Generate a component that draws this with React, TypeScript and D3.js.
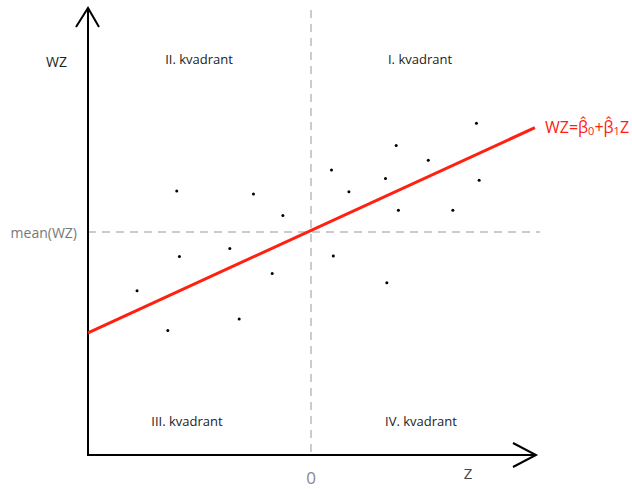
import React from "react";
import * as d3 from "d3";

const zValues = [19.9, 37.1, 43.7, 31.8, 20.5, 41.3, 11.0, 33.9, 17.9, 87.1, 69.1, 76.3, 54.6, 66.7, 58.5, 87.7, 69.6, 81.8, 55.0, 67.0];
const wzValues = [59.2, 58.5, 53.7, 46.3, 44.5, 40.7, 36.8, 30.5, 27.9, 74.4, 69.4, 66.1, 63.9, 62.0, 59.0, 61.6, 54.9, 54.9, 44.6, 38.6];
const meanZ = 50;
const meanWZ = 50;
const beta0 = 27.4;
const beta1 = 0.459;
const lineZ = [0, 100.2];
const quadrantLabels = ["I. kvadrant", "II. kvadrant", "III. kvadrant", "IV. kvadrant"];

export default function App() {
  const W = 632, H = 489;
  const x = d3.scaleLinear().domain([0, 100]).range([88, 534]);
  const y = d3.scaleLinear().domain([0, 100]).range([455, 9]);
  const font = "'Open Sans', 'DejaVu Sans', sans-serif";
  const line = d3.line<number>().x((z) => x(z)).y((z) => y(beta0 + beta1 * z));
  const axisY = y(0);
  const axisX = x(0);
  return (
    <svg width={W} height={H} style={{ position: "absolute", left: 0, top: 0, background: "#fff" }} fontFamily={font}>
      {/* dashed mean lines */}
      <line x1={x(meanZ)} x2={x(meanZ)} y1={10} y2={axisY} stroke="#999" strokeWidth={1} strokeDasharray="8,6" />
      <line x1={axisX} x2={540} y1={y(meanWZ)} y2={y(meanWZ)} stroke="#999" strokeWidth={1} strokeDasharray="8,6" />
      {/* axes */}
      <line x1={axisX} x2={axisX} y1={axisY + 1} y2={8} stroke="#000" strokeWidth={2} />
      <line x1={axisX - 1} x2={536} y1={axisY} y2={axisY} stroke="#000" strokeWidth={2} />
      <polyline points={`${axisX - 12},27 ${axisX},8 ${axisX + 11},27`} fill="none" stroke="#000" strokeWidth={2} />
      <polyline points={`513,443 536,${axisY} 513,467`} fill="none" stroke="#000" strokeWidth={2} />
      {/* regression line */}
      <path d={line(lineZ) || ""} stroke="#ff2010" strokeWidth={3} fill="none" />
      {/* points */}
      {zValues.map((z, i) => (
        <circle key={i} cx={x(z)} cy={y(wzValues[i])} r={1.5} fill="#000" />
      ))}
      {/* labels */}
      <text x={46} y={67} fontSize={14} fill="#222">WZ</text>
      <text x={77} y={238} fontSize={14} fill="#777" textAnchor="end">mean(WZ)</text>
      <text x={x(meanZ)} y={484} fontSize={17} fill="#888" textAnchor="middle">0</text>
      <text x={468} y={479} fontSize={15} fill="#444" textAnchor="middle">Z</text>
      <text x={420} y={64} fontSize={13} fill="#222" textAnchor="middle">{quadrantLabels[0]}</text>
      <text x={199} y={64} fontSize={13} fill="#222" textAnchor="middle">{quadrantLabels[1]}</text>
      <text x={187} y={426} fontSize={13} fill="#222" textAnchor="middle">{quadrantLabels[2]}</text>
      <text x={421} y={426} fontSize={13} fill="#222" textAnchor="middle">{quadrantLabels[3]}</text>
      <text x={545} y={133} fontSize={16} fill="#ff2010">
        WZ=β̂
        <tspan fontSize={11} dy={2}>0</tspan>
        <tspan dy={-2}>+β̂</tspan>
        <tspan fontSize={11} dy={2}>1</tspan>
        <tspan dy={-2}>Z</tspan>
      </text>
    </svg>
  );
}
